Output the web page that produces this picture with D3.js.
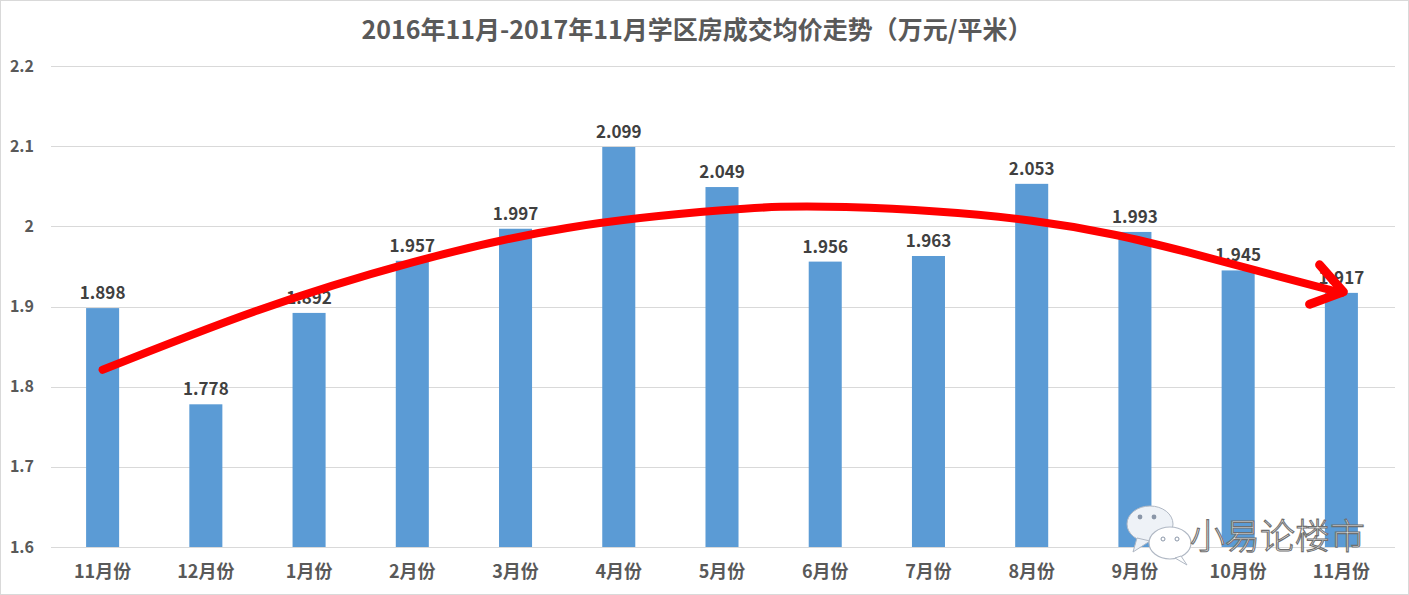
<!DOCTYPE html>
<html><head><meta charset="utf-8">
<script src="https://cdn.jsdelivr.net/npm/d3@7"></script>
<style>body{margin:0;background:#fff}svg{display:block}</style>
</head><body>
<script>
const categories = ["11月份","12月份","1月份","2月份","3月份","4月份","5月份","6月份","7月份","8月份","9月份","10月份","11月份"];
const values = [1.898,1.778,1.892,1.957,1.997,2.099,2.049,1.956,1.963,2.053,1.993,1.945,1.917];
const yTicks = [1.6,1.7,1.8,1.9,2.0,2.1,2.2];
const titleText = "2016年11月-2017年11月学区房成交均价走势（万元/平米）";
const trendPoints = [[0,1.821],[1.5,1.895],[3,1.955],[4.5,1.998],[6,2.020],[7.2,2.024],[9,2.007],[10.5,1.968],[12,1.917]];
const watermark = "小易论楼市";

const W=1409,H=595;
const svg=d3.select("body").append("svg").attr("width",W).attr("height",H);
const font='"Noto Sans CJK SC","Noto Sans",sans-serif';
svg.append("rect").attr("x",0.5).attr("y",0.5).attr("width",W-1).attr("height",H-1).attr("fill","#fff").attr("stroke","#d9d9d9");

const x=d3.scaleBand().domain(d3.range(categories.length)).range([51,1393]).paddingInner(0.68).paddingOuter(0.34);
const y=d3.scaleLinear().domain([1.6,2.2]).range([547,66]);

svg.append("g").selectAll("line").data(yTicks).join("line")
 .attr("x1",51).attr("x2",1395).attr("y1",d=>Math.round(y(d))+0.5).attr("y2",d=>Math.round(y(d))+0.5)
 .attr("stroke","#d9d9d9").attr("stroke-width",1);

const yAxis=d3.axisLeft(y).tickValues(yTicks).tickSize(0).tickPadding(0).tickFormat(d=>d3.format("")(+d.toFixed(1)));
const ga=svg.append("g").attr("transform","translate(34,0)").call(yAxis);
ga.select(".domain").remove();
ga.selectAll("text").attr("font-family",font).attr("font-weight","bold").attr("font-size",16).attr("fill","#595959").attr("dy","0.32em");

svg.append("g").selectAll("rect").data(values).join("rect")
 .attr("x",(d,i)=>x(i)).attr("width",x.bandwidth()).attr("y",d=>y(d)).attr("height",d=>y(1.6)-y(d)).attr("fill","#5B9BD5");

const xAxis=d3.axisBottom(x).tickSize(0).tickPadding(0).tickFormat(i=>categories[i]);
const gx=svg.append("g").attr("transform","translate(0,572)").call(xAxis);
gx.select(".domain").remove();
gx.selectAll("text").attr("font-family",font).attr("font-weight","bold").attr("font-size",18).attr("fill","#595959").attr("dy","0.35em");

svg.append("g").selectAll("text").data(values).join("text")
 .attr("x",(d,i)=>x(i)+x.bandwidth()/2).attr("y",d=>y(d)-9).attr("text-anchor","middle")
 .attr("font-family",font).attr("font-weight","bold").attr("font-size",17).attr("fill","#404040")
 .text(d=>d3.format(".3f")(d));

svg.append("text").attr("x",697).attr("y",39).attr("text-anchor","middle").attr("font-family",font)
 .attr("font-weight","bold").attr("font-size",25).attr("fill","#595959").text(titleText);

const cx=i=>x(0)+x.bandwidth()/2+i*x.step();
const line=d3.line().x(d=>cx(d[0])).y(d=>y(d[1])).curve(d3.curveNatural);
svg.append("path").attr("d",line(trendPoints)).attr("fill","none").attr("stroke","#ff0000").attr("stroke-width",8).attr("stroke-linecap","round");
const tip=trendPoints[trendPoints.length-1];
const tx=cx(tip[0])+2,ty=y(tip[1])-1;
const pa=trendPoints[trendPoints.length-2];
const ang=Math.atan2(ty-y(pa[1]),tx-cx(pa[0]));
const L=36,sp=0.6;
const p1=[tx-L*Math.cos(ang-sp),ty-L*Math.sin(ang-sp)];
const p2=[tx-L*Math.cos(ang+sp),ty-L*Math.sin(ang+sp)];
svg.append("path").attr("d",`M${p1}L${tx},${ty}L${p2}`).attr("fill","none").attr("stroke","#ff0000")
 .attr("stroke-width",9).attr("stroke-linecap","round").attr("stroke-linejoin","round");

const wm=svg.append("g").attr("transform","translate(1125,505)");
wm.append("ellipse").attr("cx",25).attr("cy",19).attr("rx",23).attr("ry",18).attr("fill","#eef2f7").attr("stroke","#b0b8c4").attr("stroke-width",1);
wm.append("path").attr("d","M12,33 L8,47 L25,36Z").attr("fill","#eef2f7").attr("stroke","#b0b8c4");
wm.append("ellipse").attr("cx",45).attr("cy",38).attr("rx",21).attr("ry",16).attr("fill","#fff").attr("stroke","#b0b8c4").attr("stroke-width",1.2);
wm.append("path").attr("d","M56,51 L62,60 L50,53Z").attr("fill","#fff").attr("stroke","#b0b8c4");
[[15,12],[29,12]].forEach(p=>wm.append("circle").attr("cx",p[0]).attr("cy",p[1]).attr("r",2.4).attr("fill","#8a96a8"));
[[38,34],[52,34]].forEach(p=>wm.append("circle").attr("cx",p[0]).attr("cy",p[1]).attr("r",2).attr("fill","none").attr("stroke","#8a96a8"));
svg.append("text").attr("x",1190).attr("y",549).attr("font-family",font).attr("font-size",35).attr("font-weight",300)
 .attr("fill","#ffffff").attr("stroke","#6f6f6f").attr("stroke-width",1.1).attr("letter-spacing",0).text(watermark);
</script>
</body></html>
